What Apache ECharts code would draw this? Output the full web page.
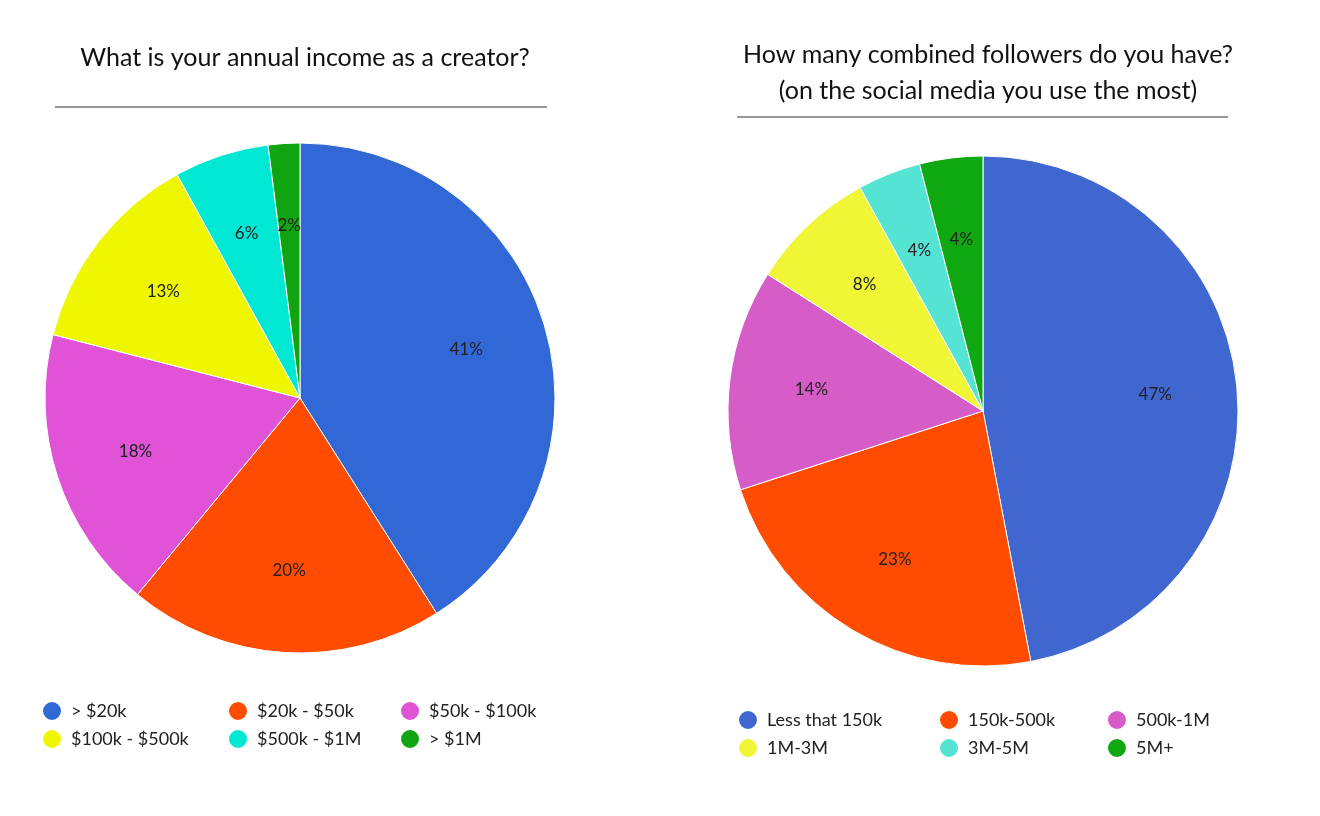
<!DOCTYPE html>
<html><head><meta charset="utf-8">
<script src="https://cdn.jsdelivr.net/npm/echarts@6/dist/echarts.min.js"></script>
<style>html,body{margin:0;padding:0;background:#fff}#c{width:1320px;height:816px}</style>
</head><body><div id="c"></div>
<script>
const leftTitle = 'What is your annual income as a creator?';
const leftCats = ['> $20k', '$20k - $50k', '$50k - $100k', '$100k - $500k', '$500k - $1M', '> $1M'];
const leftVals = [41, 20, 18, 13, 6, 2];
const leftColors = ['#3267d6', '#ff4c00', '#e052d6', '#eef700', '#00e8d4', '#10a510'];
const rightTitle = 'How many combined followers do you have?\n(on the social media you use the most)';
const rightCats = ['Less that 150k', '150k-500k', '500k-1M', '1M-3M', '3M-5M', '5M+'];
const rightVals = [47, 23, 14, 8, 4, 4];
const rightColors = ['#4066d0', '#ff4c00', '#d65cc8', '#f0f535', '#55e3d4', '#10a810'];

const font = 'Lato, "Noto Sans", sans-serif';
const chart = echarts.init(document.getElementById('c'));

function pieSeries(name, cats, vals, colors, cx, cy) {
  const data = cats.map((c, i) => ({name: c, value: vals[i], itemStyle: {color: colors[i]}}));
  return [{
    type: 'pie', name: name, center: [cx, cy], radius: [0, 255], startAngle: 90, clockwise: true,
    data: data, label: {show: false}, labelLine: {show: false},
    itemStyle: {borderColor: '#fff', borderWidth: 1}, emphasis: {disabled: true}
  }, {
    type: 'pie', name: name + 'L', center: [cx, cy], radius: [169, 171], startAngle: 90, clockwise: true,
    data: cats.map((c, i) => ({name: c, value: vals[i]})), silent: true, legendHoverLink: false,
    itemStyle: {color: 'transparent'}, labelLine: {show: false},
    label: {show: true, position: 'inside', formatter: p => p.value + '%', color: '#222', fontSize: 17, fontFamily: font}
  }];
}

const legends = [];
function addLegends(cats, xs, ys) {
  cats.forEach((c, i) => {
    legends.push({data: [c], left: xs[i % 3], top: ys[Math.floor(i / 3)], icon: 'circle',
      itemWidth: 20, itemHeight: 20, selectedMode: false,
      textStyle: {fontSize: 18, fontFamily: font, color: '#222', padding: [0, 0, 0, 4]}});
  });
}
addLegends(leftCats, [36, 222, 394], [695, 723]);
addLegends(rightCats, [732, 933, 1101], [704, 732]);

chart.setOption({
  animation: false,
  title: [
    {text: leftTitle, left: 300, top: 40, textAlign: 'center', textStyle: {fontSize: 25, fontWeight: 'normal', fontFamily: font, color: '#111'}},
    {text: rightTitle, left: 983, top: 32, textAlign: 'center', textStyle: {fontSize: 25, fontWeight: 'normal', fontFamily: font, color: '#111', lineHeight: 36}}
  ],
  graphic: [
    {type: 'line', shape: {x1: 55, y1: 107, x2: 547, y2: 107}, style: {stroke: '#333', lineWidth: 1}},
    {type: 'line', shape: {x1: 737, y1: 117, x2: 1228, y2: 117}, style: {stroke: '#333', lineWidth: 1}}
  ],
  legend: legends,
  series: [...pieSeries('left', leftCats, leftVals, leftColors, 300, 398), ...pieSeries('right', rightCats, rightVals, rightColors, 983, 411)]
});
</script></body></html>
